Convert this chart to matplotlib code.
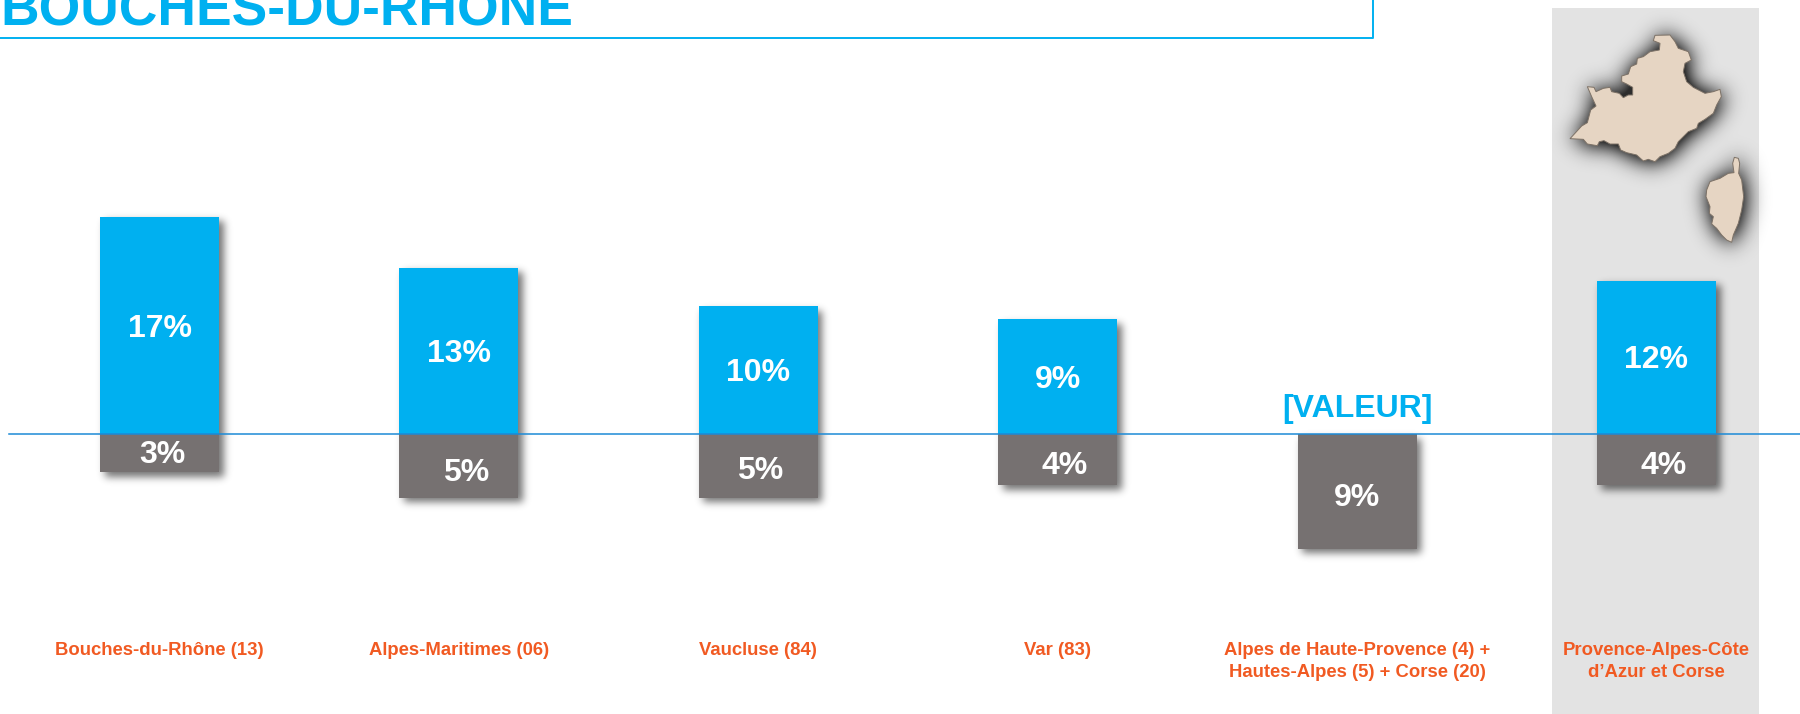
import numpy as np
import matplotlib
matplotlib.use("Agg")
import matplotlib.pyplot as plt
from matplotlib.patches import Polygon, Rectangle
from matplotlib.path import Path
from matplotlib.transforms import Affine2D

plt.rcParams['font.family'] = ['Liberation Sans', 'DejaVu Sans']

categories = ["Bouches-du-Rhône (13)", "Alpes-Maritimes (06)", "Vaucluse (84)", "Var (83)",
              "Alpes de Haute-Provence (4) +\nHautes-Alpes (5) + Corse (20)",
              "Provence-Alpes-Côte\nd’Azur et Corse"]
up_values = [17, 13, 10, 9, 0, 12]
down_values = [3, 5, 5, 4, 9, 4]
up_labels = ["17%", "13%", "10%", "9%", "[VALEUR]", "12%"]
down_labels = ["3%", "5%", "5%", "4%", "9%", "4%"]
title = "BOUCHES-DU-RHÔNE"

# region outlines (pixels of a 3x crop)
mainland = [(210,416),(245,378),(262,368),(272,330),(288,318),(275,290),(262,260),(282,262),(288,275),
            (310,265),(330,262),(335,275),(358,280),(370,293),(385,285),(398,285),(398,262),(380,252),
            (365,245),(365,228),(385,222),(392,200),(410,192),(412,175),(430,170),(450,155),(478,150),
            (480,130),(460,122),(465,106),(510,105),(525,125),(535,145),(565,155),(574,180),(555,190),
            (550,215),(560,245),(580,262),(615,280),(640,275),(660,268),(664,290),(650,315),(640,340),
            (615,358),(595,370),(590,385),(565,395),(550,410),(535,425),(525,445),(505,460),(480,470),
            (465,485),(445,478),(430,483),(410,465),(380,458),(362,450),(355,432),(330,432),(312,422),
            (298,425),(292,437),(262,432),(250,418)]
corsica = [(703,472),(715,475),(719,490),(716,520),(725,540),(731,590),(725,630),(715,670),(700,705),
           (695,727),(680,720),(665,705),(650,685),(635,672),(640,650),(628,640),(630,620),(618,590),
           (620,570),(630,545),(660,535),(685,520),(702,518),(698,490)]

BLUE = "#00B0F0"
GREY = "#767171"
ORANGE = "#F15A22"
W, H = 1800, 714
PX_X = 299.4   # pixels per category
PX_Y = 12.77   # pixels per percent
ZERO = 434
LEFT = 159.5


def blur(img, sigma):
    # separable gaussian, numpy only
    r = int(3 * sigma)
    k = np.exp(-0.5 * (np.arange(-r, r + 1) / sigma) ** 2)
    k /= k.sum()
    img = np.apply_along_axis(lambda c: np.convolve(c, k, mode="same"), 0, img)
    return np.apply_along_axis(lambda c: np.convolve(c, k, mode="same"), 1, img)


fig = plt.figure(figsize=(18, 7.14), dpi=100)
ax = fig.add_axes([0, 0, 1, 1])
xlim = (-LEFT / PX_X, (W - LEFT) / PX_X)
ylim = (-(H - ZERO) / PX_Y, ZERO / PX_Y)
ax.set_xlim(xlim)
ax.set_ylim(ylim)
ax.axis("off")

x = np.arange(len(categories))
up = np.array(up_values, dtype=float)
down = np.array(down_values, dtype=float)
bar_w = 119 / PX_X

# grey band behind the last column
ax.add_patch(Rectangle(((1552 - LEFT) / PX_X, ylim[0]), 207 / PX_X, (H - 8) / PX_Y,
                       color="#E3E3E3", lw=0, zorder=0))

# bar shadows: a mask in pixels, from the bar values, then blurred
bar_mask = np.zeros((H, W))
for xi, u, d in zip(x, up, down):
    x0 = int(LEFT + (xi - bar_w / 2) * PX_X + 5)
    x1 = int(LEFT + (xi + bar_w / 2) * PX_X + 5)
    y0 = int(ZERO - u * PX_Y + 5)
    y1 = int(ZERO + d * PX_Y + 5)
    bar_mask[y0:y1, x0:x1] = 1
shadow = blur(bar_mask, 4.0) * 0.55

# map shadow
yy, xx = np.mgrid[0:H, 1500:W]
pts = np.column_stack([xx.ravel(), yy.ravel()])
map_mask = np.zeros((H, W))
for shape in (mainland, corsica):
    poly = np.array(shape) / 3 + [1500 + 1, 1]
    map_mask[0:H, 1500:W] += Path(poly).contains_points(pts).reshape(xx.shape)
shadow = np.maximum(shadow, np.clip(blur(map_mask, 11.0) * 1.3, 0, 0.8))

rgba = np.zeros((H, W, 4))
rgba[..., 3] = shadow
ax.imshow(rgba, extent=(*xlim, *ylim), aspect="auto", zorder=1, interpolation="nearest")
ax.set_xlim(xlim)
ax.set_ylim(ylim)

ax.bar(x, up, width=bar_w, color=BLUE, lw=0, zorder=2)
ax.bar(x, -down, width=bar_w, color=GREY, lw=0, zorder=2)
ax.plot([(9 - LEFT) / PX_X, xlim[1]], [0, 0], color="#1C8AD6", lw=1.1, zorder=3)

# value labels
label_size = 23
for i, lab in enumerate(up_labels):
    if up_values[i] > 0:
        ax.text(x[i], up_values[i] / 2 + 0.03, lab, color="white", fontsize=label_size, fontweight="bold",
                ha="center", va="center_baseline", zorder=4)
    else:
        ax.text(x[i], 0.75, lab, color=BLUE, fontsize=label_size, fontweight="bold",
                ha="center", va="bottom", zorder=4)

down_shift = [3, 7, 2, 7, 0, 7]
down_lift = [0.24, -0.21, -0.01, -0.11, -0.17, -0.11]
for i, lab in enumerate(down_labels):
    ax.text(x[i] + down_shift[i] / PX_X, -down_values[i] / 2 - 0.1 + down_lift[i], lab, color="white",
            fontsize=label_size, fontweight="bold", ha="center", va="center_baseline", zorder=4)

# category labels
for i, cat in enumerate(categories):
    ax.text(x[i], (ZERO - 642) / PX_Y, cat, color=ORANGE, fontsize=13.3, fontweight="bold",
            ha="center", va="top", linespacing=1.42, zorder=4)

# title, cut by the top of the picture, with its frame
fig.text(0 / W, 1 - 25 / H, title, color=BLUE, fontsize=38.45, fontweight="bold", ha="left", va="baseline")
fig.add_artist(plt.Line2D([0, 1373 / W, 1373 / W], [1 - 38 / H, 1 - 38 / H, 1], color=BLUE, lw=1.4))

# region map
to_px = Affine2D().scale(1 / 3, -1 / 3).translate(1500, H)
for shape in (mainland, corsica):
    ax.add_patch(Polygon(shape, closed=True, facecolor="#E6D5C3", edgecolor="#7d7267", lw=0.7,
                         transform=to_px, zorder=2))

fig.savefig("out.png", dpi=100, facecolor="white")
